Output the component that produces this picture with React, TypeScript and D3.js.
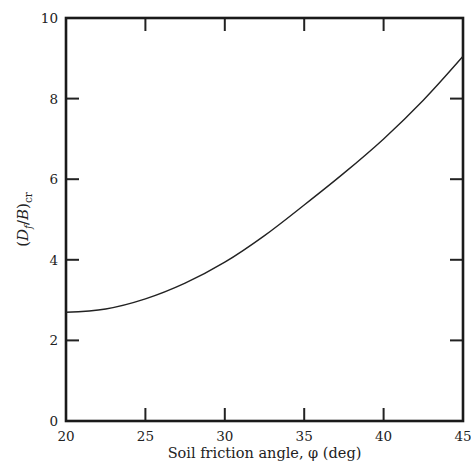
import React, { useEffect, useRef } from 'react'
import * as d3 from 'd3'

// friction angle (deg) and critical embedment ratio
const phiValues = [20, 22.5, 25, 27.5, 30, 32.5, 35, 37.5, 40, 42.5, 45]
const ratioValues = [2.7, 2.78, 3.03, 3.42, 3.94, 4.6, 5.36, 6.15, 7.0, 7.96, 9.05]
const xTicks = [20, 25, 30, 35, 40, 45]
const yTicks = [0, 2, 4, 6, 8, 10]

export default function App() {
  const ref = useRef<SVGSVGElement>(null)

  useEffect(() => {
    const svg = d3.select(ref.current)
    svg.selectAll('*').remove()

    const margin = { top: 18, right: 8, bottom: 50, left: 66 }
    const width = 471
    const height = 471
    const innerW = width - margin.left - margin.right
    const innerH = height - margin.top - margin.bottom
    const font = "'DejaVu Serif', 'Liberation Serif', serif"
    const fs = 13.5

    const x = d3.scaleLinear().domain([20, 45]).range([0, innerW])
    const y = d3.scaleLinear().domain([0, 10]).range([innerH, 0])

    const g = svg.append('g').attr('transform', `translate(${margin.left},${margin.top})`)

    // inward ticks on all four sides, skipping the corners
    const tickLen = 13
    const innerX = xTicks.slice(1, -1)
    const innerY = yTicks.slice(1, -1)
    innerX.forEach(t => {
      g.append('line').attr('x1', x(t)).attr('x2', x(t)).attr('y1', innerH).attr('y2', innerH - tickLen)
        .attr('stroke', '#222').attr('stroke-width', 2)
      g.append('line').attr('x1', x(t)).attr('x2', x(t)).attr('y1', 0).attr('y2', tickLen)
        .attr('stroke', '#222').attr('stroke-width', 2)
    })
    innerY.forEach(t => {
      g.append('line').attr('x1', 0).attr('x2', tickLen).attr('y1', y(t)).attr('y2', y(t))
        .attr('stroke', '#222').attr('stroke-width', 2)
      g.append('line').attr('x1', innerW).attr('x2', innerW - tickLen).attr('y1', y(t)).attr('y2', y(t))
        .attr('stroke', '#222').attr('stroke-width', 2)
    })

    // frame
    g.append('rect').attr('x', 0).attr('y', 0).attr('width', innerW).attr('height', innerH)
      .attr('fill', 'none').attr('stroke', '#1a1a1a').attr('stroke-width', 2.6)

    // tick labels
    g.selectAll('.xl').data(xTicks).enter().append('text')
      .attr('x', d => x(d)).attr('y', innerH + 20)
      .attr('text-anchor', 'middle').attr('font-family', font).attr('font-size', fs).attr('fill', '#222')
      .text(d => d)
    g.selectAll('.yl').data(yTicks).enter().append('text')
      .attr('x', -8).attr('y', d => y(d) + 5)
      .attr('text-anchor', 'end').attr('font-family', font).attr('font-size', fs).attr('fill', '#222')
      .text(d => d)

    // curve
    const data = phiValues.map((p, i) => ({ p, v: ratioValues[i] }))
    const line = d3.line<{ p: number; v: number }>()
      .x(d => x(d.p)).y(d => y(d.v))
      .curve(d3.curveCatmullRom)
    g.append('path').datum(data).attr('d', line).attr('fill', 'none')
      .attr('stroke', '#222').attr('stroke-width', 1.4)

    // axis titles
    g.append('text').attr('x', innerW / 2).attr('y', innerH + 37)
      .attr('text-anchor', 'middle').attr('font-family', font).attr('font-size', 14.5).attr('fill', '#222')
      .text('Soil friction angle, φ (deg)')

    const yt = g.append('text').attr('transform', `translate(-38,${innerH / 2}) rotate(-90)`)
      .attr('text-anchor', 'middle').attr('font-family', font).attr('font-size', 15).attr('fill', '#222')
    yt.append('tspan').text('(')
    yt.append('tspan').attr('font-style', 'italic').text('D')
    yt.append('tspan').attr('font-style', 'italic').attr('font-size', 10.5).attr('dy', 4).text('f')
    yt.append('tspan').attr('dy', -4).text('/')
    yt.append('tspan').attr('font-style', 'italic').text('B')
    yt.append('tspan').text(')')
    yt.append('tspan').attr('font-size', 10.5).attr('dy', 4).text('cr')
  }, [])

  return (
    <svg ref={ref} width={471} height={471}
      style={{ position: 'absolute', left: 0, top: 0, background: '#fff' }} />
  )
}
